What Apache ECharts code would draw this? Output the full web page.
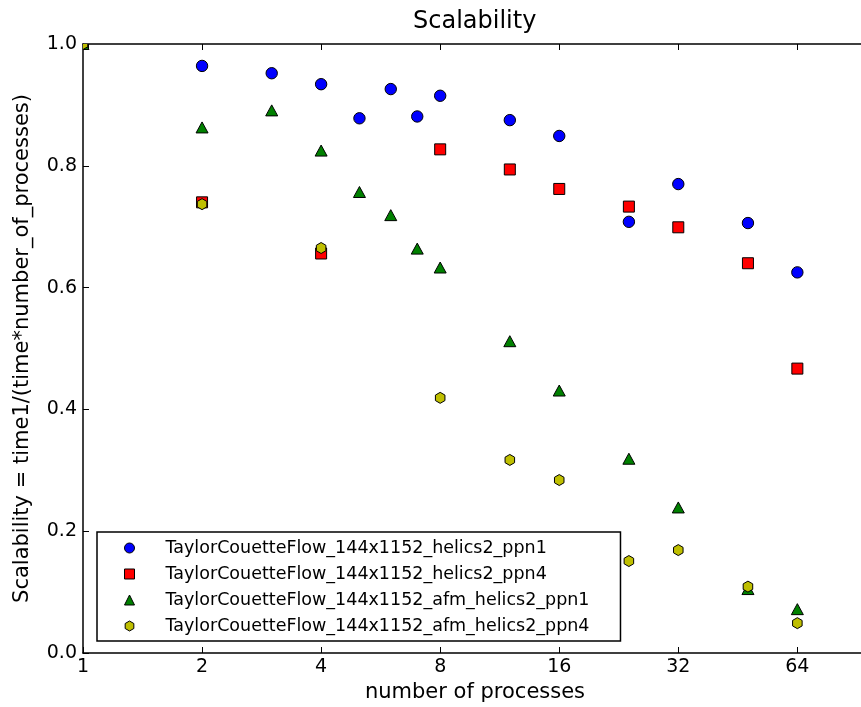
<!DOCTYPE html>
<html>
<head>
<meta charset="utf-8">
<title>Scalability</title>
<script src="https://cdn.jsdelivr.net/npm/echarts@6/dist/echarts.min.js"></script>
<style>
  html, body { margin: 0; padding: 0; background: #fff; }
  #chart { width: 861px; height: 707px; }
</style>
</head>
<body>
<div id="chart"></div>
<script>
// number of processes / scalability
const procsHelicsPpn1 = [1, 2, 3, 4, 5, 6, 7, 8, 12, 16, 24, 32, 48, 64]
const valsHelicsPpn1 = [1.0, 0.964, 0.952, 0.934, 0.878, 0.926, 0.881, 0.915, 0.875, 0.849, 0.708, 0.770, 0.706, 0.625]

const procsHelicsPpn4 = [1, 2, 4, 8, 12, 16, 24, 32, 48, 64]
const valsHelicsPpn4 = [1.0, 0.740, 0.656, 0.827, 0.794, 0.762, 0.733, 0.699, 0.640, 0.467]

const procsAfmPpn1 = [1, 2, 3, 4, 5, 6, 7, 8, 12, 16, 24, 32, 48, 64]
const valsAfmPpn1 = [1.0, 0.863, 0.891, 0.825, 0.757, 0.719, 0.664, 0.633, 0.512, 0.431, 0.319, 0.239, 0.105, 0.072]

const procsAfmPpn4 = [1, 2, 4, 8, 12, 16, 24, 32, 48, 64]
const valsAfmPpn4 = [1.0, 0.737, 0.665, 0.419, 0.317, 0.284, 0.151, 0.169, 0.109, 0.049]

const seriesNames = [
  'TaylorCouetteFlow_144x1152_helics2_ppn1',
  'TaylorCouetteFlow_144x1152_helics2_ppn4',
  'TaylorCouetteFlow_144x1152_afm_helics2_ppn1',
  'TaylorCouetteFlow_144x1152_afm_helics2_ppn4'
]
const seriesColors = ['#0000ff', '#ff0000', '#008000', '#bfbf00']
const xTicks = [1, 2, 4, 8, 16, 32, 64]

const FONT = 'DejaVu Sans'
// legend icons as paths so they keep their aspect ratio
const legendIcons = [
  'circle',
  'path://M0,0L1,0L1,1L0,1Z',
  'path://M0,-1L1,1L-1,1Z',
  'path://M0,-1L0.866,-0.5L0.866,0.5L0,1L-0.866,0.5L-0.866,-0.5Z'
]

// marker shapes, matplotlib style (o, s, ^, h)
const markerShape = (kind, cx, cy) => {
  if (kind === 0) return { type: 'circle', shape: { cx, cy, r: 5.7 } }
  if (kind === 1) return { type: 'rect', shape: { x: cx - 5.5, y: cy - 5.5, width: 11, height: 11 } }
  if (kind === 2) {
    return { type: 'polygon', shape: { points: [[cx, cy - 5.5], [cx + 6, cy + 5.5], [cx - 6, cy + 5.5]] } }
  }
  const r = 5.5
  const pts = []
  for (let i = 0; i < 6; i++) {
    const a = -Math.PI / 2 + i * Math.PI / 3
    pts.push([cx + r * Math.cos(a), cy + r * Math.sin(a)])
  }
  return { type: 'polygon', shape: { points: pts } }
}

const makeSeries = (idx, procs, vals) => ({
  name: seriesNames[idx],
  type: 'custom',
  clip: true,
  xAxisIndex: 0,
  yAxisIndex: 0,
  itemStyle: { color: seriesColors[idx], borderColor: '#000', borderWidth: 1 },
  encode: { x: 0, y: 1 },
  data: procs.map((p, i) => [p, vals[i]]),
  renderItem: (params, api) => {
    const pt = api.coord([api.value(0), api.value(1)])
    const el = markerShape(idx, pt[0], pt[1])
    el.style = { fill: seriesColors[idx], stroke: '#000', lineWidth: 1 }
    return el
  }
})

const axisText = { color: '#000', fontFamily: FONT }
const spine = { show: true, onZero: false, lineStyle: { color: '#000', width: 1.5 } }
const innerTick = { show: true, inside: true, length: 6, lineStyle: { color: '#000', width: 1 } }

const buildOption = () => ({
  backgroundColor: '#fff',
  animation: false,
  title: {
    text: 'Scalability',
    left: 408,
    top: 5,
    textStyle: { color: '#000', fontFamily: FONT, fontSize: 24, fontWeight: 'normal' }
  },
  legend: {
    orient: 'vertical',
    left: 97,
    top: 532,
    // icon sits centred in a 62px slot, the group bbox starts at the icon
    padding: [6, 31, 5, 27],
    itemGap: 6,
    itemWidth: 62,
    itemHeight: 10,
    symbolKeepAspect: true,
    borderColor: '#000',
    borderWidth: 1.5,
    borderRadius: 0,
    backgroundColor: '#fff',
    textStyle: { color: '#000', fontFamily: FONT, fontSize: 17.5, lineHeight: 20 },
    data: seriesNames.map((name, i) => ({
      name,
      icon: legendIcons[i],
      itemStyle: { color: seriesColors[i], borderColor: '#000', borderWidth: 1 }
    }))
  },
  grid: { left: 83, top: 44, right: -6, bottom: 54, outerBoundsMode: 'none' },
  xAxis: [
    {
      type: 'log',
      logBase: 2,
      min: 1,
      max: 96,
      position: 'bottom',
      name: 'number of processes',
      nameLocation: 'middle',
      nameGap: 24,
      nameTextStyle: { ...axisText, fontSize: 21 },
      axisLine: spine,
      axisTick: innerTick,
      axisLabel: {
        ...axisText,
        fontSize: 19,
        margin: 5,
        formatter: v => (xTicks.includes(Math.round(v)) && Math.abs(v - Math.round(v)) < 1e-6 ? String(Math.round(v)) : '')
      },
      minorTick: { show: false },
      splitLine: { show: false }
    },
    {
      type: 'log',
      logBase: 2,
      min: 1,
      max: 96,
      position: 'top',
      axisLine: spine,
      axisTick: innerTick,
      axisLabel: { show: false },
      splitLine: { show: false }
    }
  ],
  yAxis: [
    {
      type: 'value',
      min: 0,
      max: 1,
      interval: 0.2,
      position: 'left',
      name: 'Scalability = time1/(time*number_of_processes)',
      nameLocation: 'middle',
      nameGap: 50,
      nameTextStyle: { ...axisText, fontSize: 21 },
      axisLine: spine,
      axisTick: innerTick,
      axisLabel: { ...axisText, fontSize: 19, margin: 6, formatter: v => v.toFixed(1) },
      splitLine: { show: false }
    },
    {
      type: 'value',
      min: 0,
      max: 1,
      interval: 0.2,
      position: 'right',
      axisLine: spine,
      axisTick: innerTick,
      axisLabel: { show: false },
      splitLine: { show: false }
    }
  ],
  series: [
    makeSeries(0, procsHelicsPpn1, valsHelicsPpn1),
    makeSeries(1, procsHelicsPpn4, valsHelicsPpn4),
    makeSeries(2, procsAfmPpn1, valsAfmPpn1),
    makeSeries(3, procsAfmPpn4, valsAfmPpn4)
  ]
})

const chart = echarts.init(document.getElementById('chart'), null, { renderer: 'canvas' })
chart.setOption(buildOption())
window.addEventListener('resize', () => chart.resize())
</script>
</body>
</html>
